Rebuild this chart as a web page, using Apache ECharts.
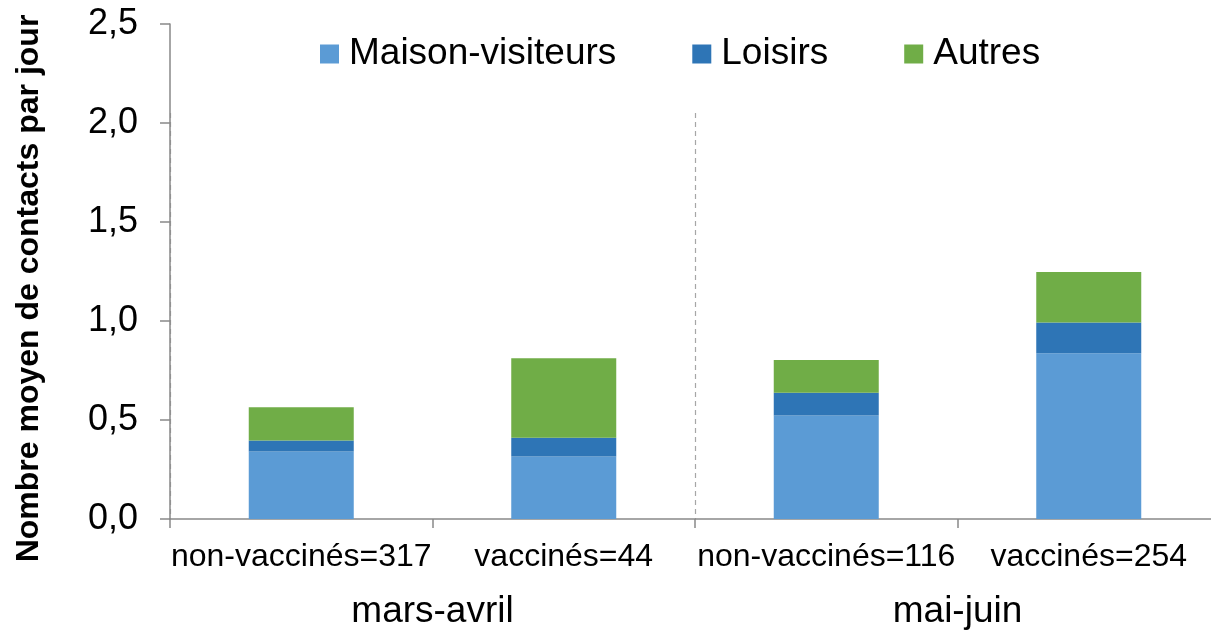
<!DOCTYPE html>
<html>
<head>
<meta charset="utf-8">
<script src="https://cdn.jsdelivr.net/npm/echarts@6/dist/echarts.min.js"></script>
<style>
  html, body { margin: 0; padding: 0; background: #fff; }
  #chart { width: 1211px; height: 632px; }
</style>
</head>
<body>
<div id="chart"></div>
<script>
// données
const categories = ['non-vaccinés=317', 'vaccinés=44', 'non-vaccinés=116', 'vaccinés=254']
const periods = ['mars-avril', 'mai-juin']
const maison = [0.341, 0.316, 0.523, 0.837]
const loisirs = [0.055, 0.094, 0.115, 0.156]
const autres = [0.169, 0.402, 0.165, 0.254]
const yTicks = { min: 0, max: 2.5, interval: 0.5 }

const font = 'Liberation Sans, Arial, sans-serif'
const axisGrey = '#898989'

const myChart = echarts.init(document.getElementById('chart'))

const barSeries = (name, data, color) => ({
  name: name,
  type: 'bar',
  stack: 'total',
  barWidth: '40%',
  itemStyle: { color: color },
  data: data,
})

const option = {
  animation: false,
  textStyle: { fontFamily: font, color: '#000' },
  legend: {
    data: ['Maison-visiteurs', 'Loisirs', 'Autres'],
    left: 315,
    top: 30,
    icon: 'rect',
    itemWidth: 19,
    itemHeight: 19,
    itemGap: 76,
    textStyle: {
      fontFamily: font,
      fontSize: 37,
      lineHeight: 38,
      color: '#000',
      padding: [0, 0, 0, 5],
    },
  },
  // la grille dépasse un peu à droite comme dans l'original
  grid: [
    { left: 170, top: 24, width: 1050, bottom: 113, outerBoundsMode: 'none' },
    { left: 170, top: 113, width: 1050, bottom: 113, outerBoundsMode: 'none' },
  ],
  xAxis: [
    {
      type: 'category',
      gridIndex: 0,
      data: categories,
      axisLine: { lineStyle: { color: axisGrey, width: 1.5 } },
      axisTick: { show: true, length: 9, lineStyle: { color: axisGrey, width: 1.5 } },
      axisLabel: { fontFamily: font, fontSize: 32, color: '#000', margin: 22, interval: 0 },
    },
    {
      type: 'category',
      gridIndex: 1,
      data: periods,
      axisLine: { show: false },
      axisTick: { show: false },
      axisLabel: { fontFamily: font, fontSize: 37, color: '#000', margin: 74 },
      splitLine: {
        show: true,
        lineStyle: { color: '#a6a6a6', type: [5, 4], width: 1.2 },
      },
    },
  ],
  yAxis: [
    {
      type: 'value',
      gridIndex: 0,
      min: yTicks.min,
      max: yTicks.max,
      interval: yTicks.interval,
      name: 'Nombre moyen de contacts par jour',
      nameLocation: 'middle',
      nameGap: 125,
      nameTextStyle: {
        fontFamily: font,
        fontSize: 32,
        fontWeight: 'bold',
        color: '#000',
        padding: [0, 34, 0, 0],
      },
      axisLine: { show: true, lineStyle: { color: axisGrey, width: 1.5 } },
      axisTick: { show: true, length: 10, lineStyle: { color: axisGrey, width: 1.5 } },
      axisLabel: {
        fontFamily: font,
        fontSize: 36,
        color: '#000',
        margin: 32,
        formatter: (v) => v.toFixed(1).replace('.', ','),
      },
      splitLine: { show: false },
    },
    { type: 'value', gridIndex: 1, show: false },
  ],
  series: [
    barSeries('Maison-visiteurs', maison, '#5b9bd5'),
    barSeries('Loisirs', loisirs, '#2e75b6'),
    barSeries('Autres', autres, '#70ad47'),
  ],
}

myChart.setOption(option)
</script>
</body>
</html>
